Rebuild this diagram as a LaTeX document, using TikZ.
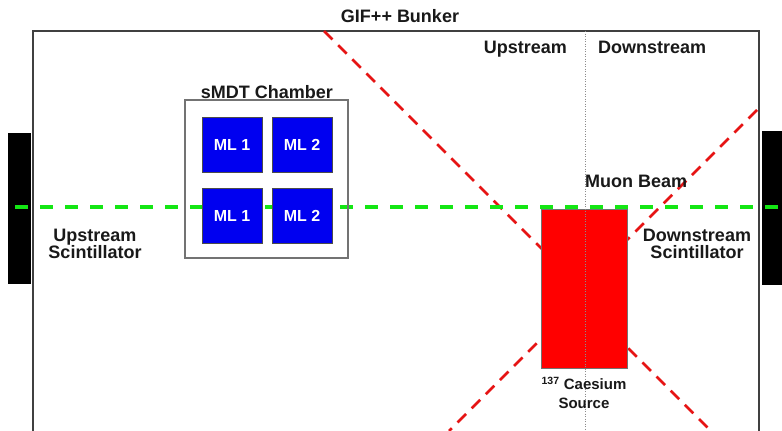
\documentclass[tikz,border=0pt]{standalone}
\usepackage{fontspec}
\setmainfont{Liberation Sans}
\definecolor{beamgreen}{RGB}{20,230,20}
\definecolor{rayred}{RGB}{230,20,20}
\definecolor{srcred}{RGB}{255,0,0}
\definecolor{mlblue}{RGB}{0,0,240}
\begin{document}
\begin{tikzpicture}[x=1pt,y=-1pt,
  lbl/.style={font=\bfseries\fontsize{18}{17}\selectfont, inner sep=0pt, text=black!90},
  srclbl/.style={font=\bfseries\fontsize{15}{19}\selectfont, inner sep=0pt, text=black!90},
  mlbox/.style={draw=black!70, line width=0.8pt, fill=mlblue, minimum width=60pt, minimum height=55pt, inner sep=0pt, font=\bfseries\fontsize{16}{16}\selectfont, text=white},
  scint/.style={fill=black, draw=none, inner sep=0pt},
  bunker/.style={draw=black!75, line width=2pt},
  beam/.style={draw=beamgreen, line width=3.5pt, dash pattern=on 13pt off 12pt},
  ray/.style={draw=rayred, line width=2.5pt, dash pattern=on 12pt off 8pt},
  divider/.style={draw=black!45, line width=0.8pt, dash pattern=on 1pt off 1.5pt}]
\useasboundingbox (0,0) rectangle (782,431);
\fill[white] (0,0) rectangle (782,431);
% bunker walls
\draw[bunker] (33,431) -- (33,31) -- (759,31) -- (759,431);
% scintillators
\node[scint, minimum width=23pt, minimum height=151pt] (uscint) at (19.5,208.5) {};
\node[scint, minimum width=20pt, minimum height=154pt] (dscint) at (772,208) {};
% gamma rays
\coordinate (rA1) at (324,31);   \coordinate (rA2) at (565,272);
\coordinate (rB1) at (600,320);  \coordinate (rB2) at (711,431);
\coordinate (rC1) at (757,110);  \coordinate (rC2) at (600,267);
\coordinate (rD1) at (565,315);  \coordinate (rD2) at (449,431);
\draw[ray] (rA1) -- (rA2);
\draw[ray] (rB1) -- (rB2);
\draw[ray] (rC1) -- (rC2);
\draw[ray] (rD1) -- (rD2);
% muon beam
\coordinate (bm1) at (15,207); \coordinate (bm2) at (782,207);
\draw[beam] (bm1) -- (bm2);
% chamber
\node[draw=black!55, line width=1.2pt, minimum width=163pt, minimum height=158pt, inner sep=0pt] (chamber) at (266.5,179) {};
\node[mlbox] (ml1a) at (232,144.5) {ML 1};
\node[mlbox] (ml2a) at (302,144.5) {ML 2};
\node[mlbox] (ml1b) at (232,215.5) {ML 1};
\node[mlbox] (ml2b) at (302,215.5) {ML 2};
% source
\node[draw=black!55, line width=0.8pt, fill=srcred, minimum width=86pt, minimum height=159pt, inner sep=0pt] (source) at (584,288.5) {};
% divider
\coordinate (dv1) at (585,31); \coordinate (dv2) at (585,431);
\draw[divider] (dv1) -- (dv2);
% labels
\node[lbl, anchor=base] (title) at (400,22) {GIF++ Bunker};
\node[lbl, anchor=base east] (uplbl) at (567,53) {Upstream};
\node[lbl, anchor=base west] (downlbl) at (598,53) {Downstream};
\node[lbl, anchor=base] (chlbl) at (267,98) {sMDT Chamber};
\node[lbl, anchor=base west] (beamlbl) at (585,187) {Muon Beam};
\node[lbl, anchor=north, align=center] (usclbl) at (95,229) {Upstream\\Scintillator};
\node[lbl, anchor=north, align=center] (dsclbl) at (697,229) {Downstream\\Scintillator};
\node[srclbl, anchor=north, align=center] (srclbl) at (584,377) {\textsuperscript{137} Caesium\\Source};
\end{tikzpicture}
\end{document}
